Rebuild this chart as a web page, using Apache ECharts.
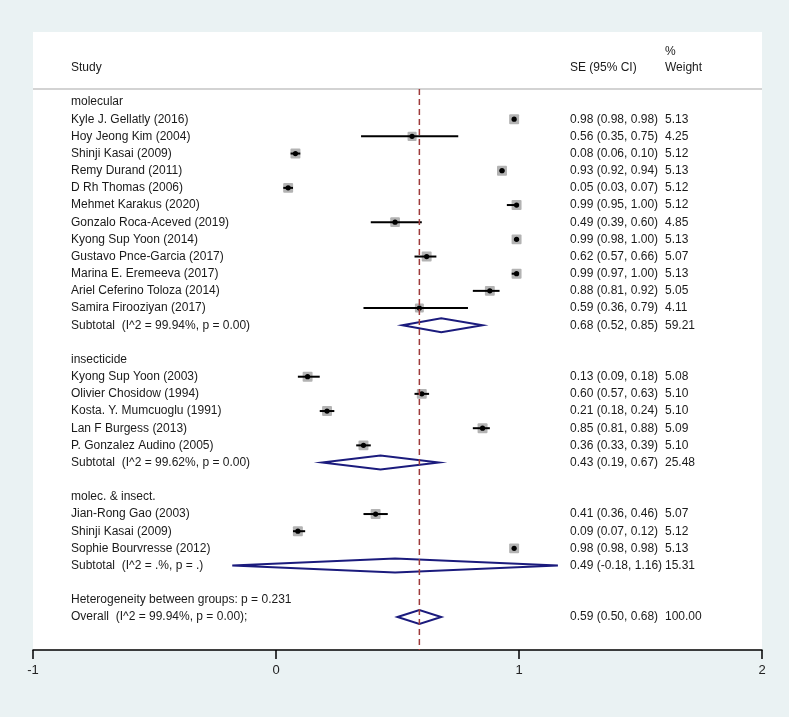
<!DOCTYPE html>
<html>
<head>
<meta charset="utf-8">
<script src="https://cdn.jsdelivr.net/npm/echarts@6/dist/echarts.min.js"></script>
<style>
html, body { margin: 0; padding: 0; background: #eaf2f3; }
#main { width: 789px; height: 717px; }
</style>
</head>
<body>
<div id="main"></div>
<script>
// one entry per plot row, top to bottom
var rowLabels = [
    'molecular',
    'Kyle J. Gellatly (2016)',
    'Hoy Jeong Kim (2004)',
    'Shinji Kasai (2009)',
    'Remy Durand (2011)',
    'D Rh Thomas (2006)',
    'Mehmet Karakus (2020)',
    'Gonzalo Roca-Aceved (2019)',
    'Kyong Sup Yoon (2014)',
    'Gustavo Pnce-Garcia (2017)',
    'Marina E. Eremeeva (2017)',
    'Ariel Ceferino Toloza (2014)',
    'Samira Firooziyan (2017)',
    'Subtotal  (I^2 = 99.94%, p = 0.00)',
    '',
    'insecticide',
    'Kyong Sup Yoon (2003)',
    'Olivier Chosidow (1994)',
    'Kosta. Y. Mumcuoglu (1991)',
    'Lan F Burgess (2013)',
    'P. Gonzalez Audino (2005)',
    'Subtotal  (I^2 = 99.62%, p = 0.00)',
    '',
    'molec. & insect.',
    'Jian-Rong Gao (2003)',
    'Shinji Kasai (2009)',
    'Sophie Bourvresse (2012)',
    'Subtotal  (I^2 = .%, p = .)',
    '',
    'Heterogeneity between groups: p = 0.231',
    'Overall  (I^2 = 99.94%, p = 0.00);'
];
// g = group heading, s = study, d = pooled (diamond), n = note, '' = blank
var rowType = [
    'g', 's', 's', 's', 's', 's', 's', 's', 's', 's', 's', 's', 's', 'd', '',
    'g', 's', 's', 's', 's', 's', 'd', '',
    'g', 's', 's', 's', 'd', '',
    'n', 'd'
];
var estimate = [
    null, 0.98, 0.56, 0.08, 0.93, 0.05, 0.99, 0.49, 0.99, 0.62, 0.99, 0.88, 0.59, 0.68, null,
    null, 0.13, 0.60, 0.21, 0.85, 0.36, 0.43, null,
    null, 0.41, 0.09, 0.98, 0.49, null,
    null, 0.59
];
var ciLow = [
    null, 0.98, 0.35, 0.06, 0.92, 0.03, 0.95, 0.39, 0.98, 0.57, 0.97, 0.81, 0.36, 0.52, null,
    null, 0.09, 0.57, 0.18, 0.81, 0.33, 0.19, null,
    null, 0.36, 0.07, 0.98, -0.18, null,
    null, 0.50
];
var ciHigh = [
    null, 0.98, 0.75, 0.10, 0.94, 0.07, 1.00, 0.60, 1.00, 0.66, 1.00, 0.92, 0.79, 0.85, null,
    null, 0.18, 0.63, 0.24, 0.88, 0.39, 0.67, null,
    null, 0.46, 0.12, 0.98, 1.16, null,
    null, 0.68
];
var weights = [
    null, 5.13, 4.25, 5.12, 5.13, 5.12, 5.12, 4.85, 5.13, 5.07, 5.13, 5.05, 4.11, 59.21, null,
    null, 5.08, 5.10, 5.10, 5.09, 5.10, 25.48, null,
    null, 5.07, 5.12, 5.13, 15.31, null,
    null, 100.00
];
var xTicks = [-1, 0, 1, 2];
var headerStudy = 'Study';
var headerCI = 'SE (95% CI)';
var headerPct = '%';
var headerWeight = 'Weight';

var overallEst = estimate[estimate.length - 1];
var yMin = -4.08, yMax = 31.92;
var headerRow = -2, pctRow = -2.95, sepRow = -0.76;
var font = '"Liberation Sans", Arial, sans-serif';
var txt = '#1a1a1a';

var studyData = [], poolData = [], textData = [];
rowLabels.forEach(function (lab, i) {
    if (rowType[i] === 's') studyData.push([estimate[i], i, ciLow[i], ciHigh[i], weights[i]]);
    if (rowType[i] === 'd') poolData.push([estimate[i], i, ciLow[i], ciHigh[i]]);
    textData.push([0, i]);
});

function fmt(v) { return v.toFixed(2); }

var chart = echarts.init(document.getElementById('main'));
chart.setOption({
    animation: false,
    backgroundColor: '#eaf2f3',
    grid: { left: 33, right: 27, top: 32, bottom: 67, show: true, backgroundColor: '#ffffff', borderWidth: 0 },
    xAxis: {
        type: 'value', min: xTicks[0], max: xTicks[xTicks.length - 1], interval: 1,
        axisLine: { show: true, onZero: false, lineStyle: { color: '#000', width: 1.5 } },
        axisTick: { show: true, length: 9, lineStyle: { color: '#000', width: 1.5 } },
        axisLabel: { margin: 14, fontSize: 13, color: '#222', fontFamily: font },
        splitLine: { show: false }
    },
    yAxis: { type: 'value', inverse: true, min: yMin, max: yMax, show: false },
    series: [
        {
            // header texts + separator
            type: 'custom', silent: true, data: [[0, headerRow]],
            renderItem: function (params, api) {
                var cs = params.coordSys;
                var y = api.coord([0, headerRow])[1];
                var yp = api.coord([0, pctRow])[1];
                var ys = api.coord([0, sepRow])[1];
                var st = function (s, x, yy) {
                    return { type: 'text', x: x, y: yy, style: { text: s, fill: txt, font: '12px ' + font, verticalAlign: 'middle' } };
                };
                return { type: 'group', children: [
                    st(headerStudy, cs.x + 38, y),
                    st(headerCI, cs.x + 537, y),
                    st(headerPct, cs.x + 632, yp),
                    st(headerWeight, cs.x + 632, y),
                    { type: 'line', shape: { x1: cs.x, y1: ys, x2: cs.x + cs.width, y2: ys }, style: { stroke: '#c4c4c4', lineWidth: 1.5 } }
                ] };
            }
        },
        {
            type: 'line', silent: true, symbol: 'none',
            data: [[overallEst, sepRow], [overallEst, yMax]],
            lineStyle: { color: '#9e3a3a', width: 1.5, type: [6, 4] }
        },
        {
            type: 'custom', silent: true, data: studyData,
            encode: { x: [0, 2, 3], y: 1 },
            renderItem: function (params, api) {
                var row = api.value(1);
                var c = api.coord([api.value(0), row]);
                var l = api.coord([api.value(2), row]);
                var h = api.coord([api.value(3), row]);
                var side = Math.sqrt(api.value(4)) * 4.4;
                return { type: 'group', children: [
                    { type: 'rect', shape: { x: c[0] - side / 2, y: c[1] - side / 2, width: side, height: side, r: 1 }, style: { fill: '#b3b3b3' } },
                    { type: 'line', shape: { x1: l[0], y1: c[1], x2: h[0], y2: c[1] }, style: { stroke: '#000', lineWidth: 2 } },
                    { type: 'circle', shape: { cx: c[0], cy: c[1], r: 2.6 }, style: { fill: '#000' } }
                ] };
            }
        },
        {
            type: 'custom', silent: true, data: poolData,
            encode: { x: [0, 2, 3], y: 1 },
            renderItem: function (params, api) {
                var row = api.value(1);
                var c = api.coord([api.value(0), row]);
                var l = api.coord([api.value(2), row]);
                var h = api.coord([api.value(3), row]);
                return {
                    type: 'polygon',
                    shape: { points: [[l[0], c[1]], [c[0], c[1] - 7], [h[0], c[1]], [c[0], c[1] + 7]] },
                    style: { fill: 'none', stroke: '#1b1b7d', lineWidth: 2 }
                };
            }
        },
        {
            type: 'custom', silent: true, data: textData,
            renderItem: function (params, api) {
                var i = api.value(1);
                var cs = params.coordSys;
                var y = api.coord([0, i])[1];
                var kids = [{ type: 'text', x: cs.x + 38, y: y, style: { text: rowLabels[i], fill: txt, font: '12px ' + font, verticalAlign: 'middle' } }];
                if (estimate[i] !== null) {
                    kids.push({ type: 'text', x: cs.x + 537, y: y, style: { text: fmt(estimate[i]) + ' (' + fmt(ciLow[i]) + ', ' + fmt(ciHigh[i]) + ')', fill: txt, font: '12px ' + font, verticalAlign: 'middle' } });
                    kids.push({ type: 'text', x: cs.x + 632, y: y, style: { text: fmt(weights[i]), fill: txt, font: '12px ' + font, verticalAlign: 'middle' } });
                }
                return { type: 'group', children: kids };
            }
        }
    ]
});
</script>
</body>
</html>
